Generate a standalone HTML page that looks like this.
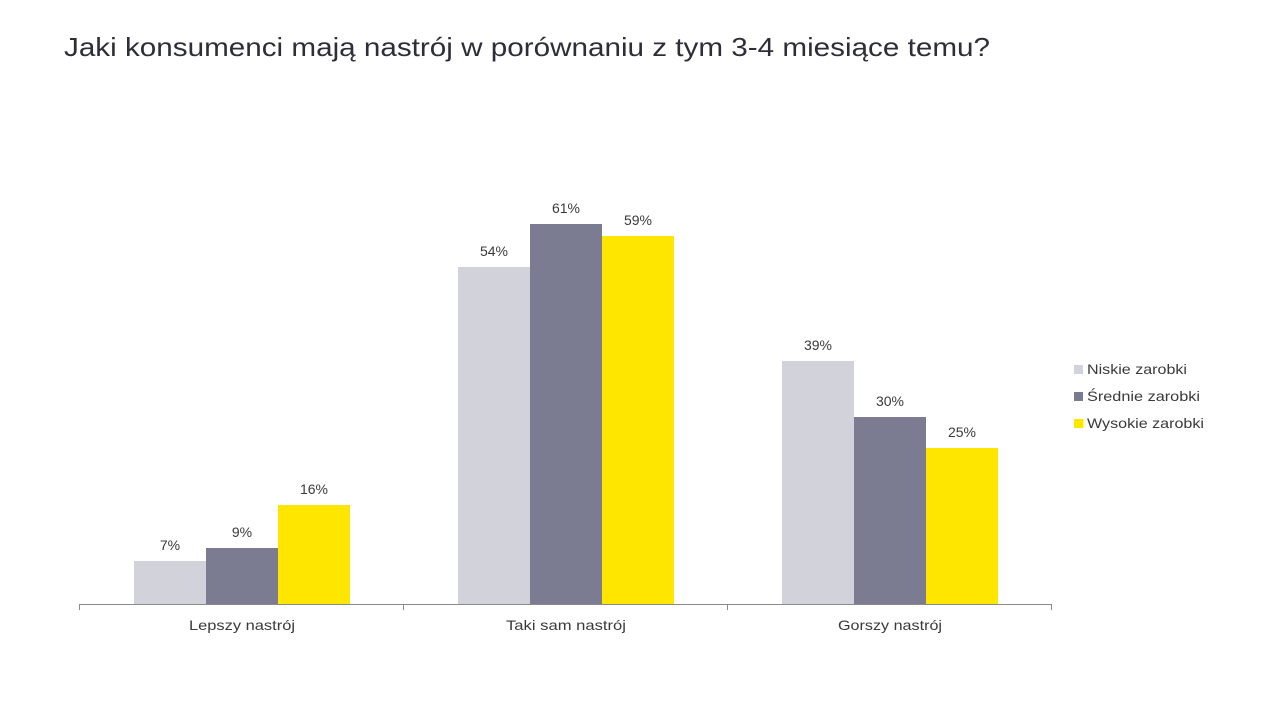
<!DOCTYPE html>
<html><head><meta charset="utf-8"><style>
html,body{margin:0;padding:0;background:#fff;}
svg{display:block;font-family:"Liberation Sans",sans-serif;}
</style></head><body>
<svg width="1281" height="720" viewBox="0 0 1281 720" xmlns="http://www.w3.org/2000/svg">
<text x="64" y="56" font-size="26" fill="#2e2e38" textLength="926" lengthAdjust="spacingAndGlyphs">Jaki konsumenci mają nastrój w porównaniu z tym 3-4 miesiące temu?</text>
<g>
<rect x="134" y="561" width="72" height="43" fill="#d2d2da"/>
<rect x="206" y="548" width="72" height="56" fill="#7b7b91"/>
<rect x="278" y="505" width="72" height="99" fill="#ffe600"/>
<rect x="458" y="267" width="72" height="337" fill="#d2d2da"/>
<rect x="530" y="224" width="72" height="380" fill="#7b7b91"/>
<rect x="602" y="236" width="72" height="368" fill="#ffe600"/>
<rect x="782" y="361" width="72" height="243" fill="#d2d2da"/>
<rect x="854" y="417" width="72" height="187" fill="#7b7b91"/>
<rect x="926" y="448" width="72" height="156" fill="#ffe600"/>
</g>
<g font-size="14" fill="#3a3a3a" text-anchor="middle">
<text x="170" y="550">7%</text>
<text x="242" y="537">9%</text>
<text x="314" y="494">16%</text>
<text x="494" y="256">54%</text>
<text x="566" y="213">61%</text>
<text x="638" y="225">59%</text>
<text x="818" y="350">39%</text>
<text x="890" y="406">30%</text>
<text x="962" y="437">25%</text>
<text x="242" y="630" textLength="106" lengthAdjust="spacingAndGlyphs">Lepszy nastrój</text>
<text x="566" y="630" textLength="120" lengthAdjust="spacingAndGlyphs">Taki sam nastrój</text>
<text x="890" y="630" textLength="104" lengthAdjust="spacingAndGlyphs">Gorszy nastrój</text>
</g>
<g stroke="#8a8a8a" stroke-width="1">
<line x1="79" y1="604.5" x2="1052" y2="604.5"/>
<line x1="79.5" y1="604" x2="79.5" y2="610"/>
<line x1="403.5" y1="604" x2="403.5" y2="610"/>
<line x1="727.5" y1="604" x2="727.5" y2="610"/>
<line x1="1051.5" y1="604" x2="1051.5" y2="610"/>
</g>
<rect x="1074" y="365" width="9" height="9" fill="#d2d2da"/>
<rect x="1074" y="392" width="9" height="9" fill="#7b7b91"/>
<rect x="1074" y="419" width="9" height="9" fill="#ffe600"/>
<g font-size="14" fill="#3a3a3a">
<text x="1087" y="374" textLength="100" lengthAdjust="spacingAndGlyphs">Niskie zarobki</text>
<text x="1087" y="401" textLength="113" lengthAdjust="spacingAndGlyphs">Średnie zarobki</text>
<text x="1087" y="428" textLength="117" lengthAdjust="spacingAndGlyphs">Wysokie zarobki</text>
</g>
</svg>
</body></html>
